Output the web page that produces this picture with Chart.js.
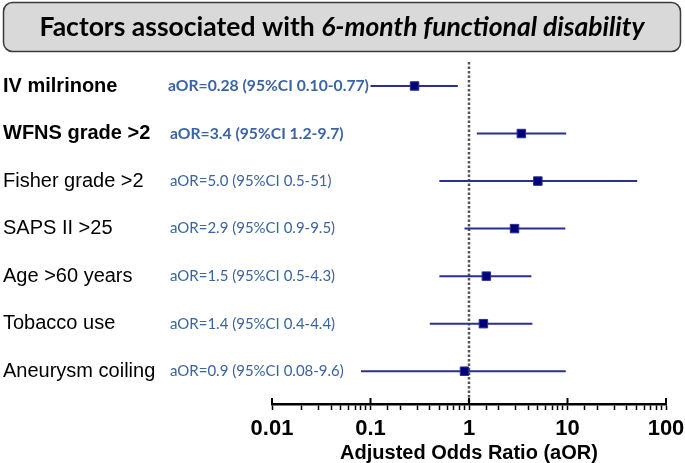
<!DOCTYPE html>
<html>
<head>
<meta charset="utf-8">
<script src="https://cdn.jsdelivr.net/npm/chart.js@4.4.0/dist/chart.umd.min.js"></script>
<style>
  html, body { margin: 0; padding: 0; background: #fff; }
  #wrap { width: 685px; height: 463px; position: relative; }
</style>
</head>
<body>
<div id="wrap"><canvas id="forestChart"></canvas></div>
<script>
// Data
const factors = ['IV milrinone', 'WFNS grade >2', 'Fisher grade >2', 'SAPS II >25', 'Age >60 years', 'Tobacco use', 'Aneurysm coiling'];
const boldRows = [true, true, false, false, false, false, false];
const oddsRatio = [0.28, 3.4, 5.0, 2.9, 1.5, 1.4, 0.9];
const ciLow = [0.10, 1.2, 0.5, 0.9, 0.5, 0.4, 0.08];
const ciHigh = [0.77, 9.7, 51, 9.5, 4.3, 4.4, 9.6];
const ciText = [
  'aOR=0.28 (95%CI 0.10-0.77)',
  'aOR=3.4 (95%CI 1.2-9.7)',
  'aOR=5.0 (95%CI 0.5-51)',
  'aOR=2.9 (95%CI 0.9-9.5)',
  'aOR=1.5 (95%CI 0.5-4.3)',
  'aOR=1.4 (95%CI 0.4-4.4)',
  'aOR=0.9 (95%CI 0.08-9.6)'
];
const majorTicks = [0.01, 0.1, 1, 10, 100];
const titlePlain = 'Factors associated with ';
const titleItalic = '6-month functional disability';
const axisTitle = 'Adjusted Odds Ratio (aOR)';

// Draws reference line, CI whiskers, row labels and the title box
const forestPlugin = {
  id: 'forest',
  beforeDatasetsDraw(chart) {
    const { ctx, chartArea, scales: { x, y } } = chart;
    ctx.save();
    // dotted line at OR = 1
    const x1 = x.getPixelForValue(1);
    ctx.strokeStyle = '#555';
    ctx.lineWidth = 2.5;
    ctx.setLineDash([2.5, 2]);
    ctx.beginPath();
    ctx.moveTo(x1, chartArea.top);
    ctx.lineTo(x1, chartArea.bottom);
    ctx.stroke();
    ctx.setLineDash([]);
    // confidence intervals
    ctx.strokeStyle = '#2b2f8f';
    ctx.lineWidth = 2;
    ciLow.forEach((lo, i) => {
      const py = y.getPixelForValue(i);
      ctx.beginPath();
      ctx.moveTo(x.getPixelForValue(lo), py);
      ctx.lineTo(x.getPixelForValue(ciHigh[i]), py);
      ctx.stroke();
    });
    ctx.restore();
  },
  afterDraw(chart) {
    const { ctx, scales: { x, y } } = chart;
    ctx.save();
    // upper half of the major ticks
    ctx.strokeStyle = '#000';
    ctx.lineWidth = 2;
    majorTicks.forEach(v => {
      const px = x.getPixelForValue(v);
      ctx.beginPath();
      ctx.moveTo(px, x.top);
      ctx.lineTo(px, x.top - 6);
      ctx.stroke();
    });
    // row labels and estimates
    ctx.textBaseline = 'middle';
    factors.forEach((f, i) => {
      const py = y.getPixelForValue(i);
      ctx.fillStyle = '#000';
      ctx.font = (boldRows[i] ? 'bold ' : '') + '20px "Liberation Sans", Arial, sans-serif';
      ctx.fillText(f, 3, py);
      ctx.fillStyle = '#3b64a3';
      ctx.font = boldRows[i] ? 'bold 15.7px Lato, sans-serif' : '15px Lato, sans-serif';
      ctx.fillText(ciText[i], i === 0 ? 168 : 170, py);
    });
    // title box
    ctx.fillStyle = '#d9d9d9';
    ctx.strokeStyle = '#3a3a3a';
    ctx.lineWidth = 1.5;
    ctx.beginPath();
    ctx.roundRect(3.5, 2.5, 677, 49, 9);
    ctx.fill();
    ctx.stroke();
    ctx.fillStyle = '#000';
    const fPlain = 'bold 26.5px Lato, sans-serif';
    const fItal = 'italic bold 26.5px Lato, sans-serif';
    ctx.font = fPlain;
    const w1 = ctx.measureText(titlePlain).width;
    ctx.font = fItal;
    const w2 = ctx.measureText(titleItalic).width;
    const start = 342 - (w1 + w2) / 2;
    ctx.font = fPlain;
    ctx.fillText(titlePlain, start, 27);
    ctx.font = fItal;
    ctx.fillText(titleItalic, start + w1, 27);
    ctx.restore();
  }
};

const ctx = document.getElementById('forestChart').getContext('2d');
new Chart(ctx, {
  type: 'scatter',
  data: {
    datasets: [{
      data: oddsRatio.map((v, i) => ({ x: v, y: i })),
      pointStyle: 'rect',
      pointRadius: 6,
      pointHoverRadius: 6,
      backgroundColor: '#00007a',
      borderColor: '#2b2f8f',
      borderWidth: 1
    }]
  },
  options: {
    responsive: true,
    maintainAspectRatio: false,
    animation: false,
    layout: { padding: { top: 62, left: 272, right: 19, bottom: 0 } },
    plugins: { legend: { display: false }, tooltip: { enabled: false } },
    scales: {
      x: {
        type: 'logarithmic',
        min: 0.01,
        max: 100,
        afterFit(scale) { scale.paddingRight = 0; scale.paddingLeft = 0; },
        border: { display: true, color: '#000', width: 2.5 },
        grid: { drawOnChartArea: false, drawTicks: true, tickLength: 6, color: '#000', tickWidth: 1.5 },
        ticks: {
          autoSkip: false,
          maxRotation: 0,
          padding: 8,
          color: '#000',
          font: { family: '"Liberation Sans", Arial, sans-serif', size: 22, weight: 'bold', lineHeight: 1 },
          callback: v => majorTicks.includes(Number(v)) ? String(v) : ''
        },
        title: {
          display: true,
          text: axisTitle,
          color: '#000',
          font: { family: '"Liberation Sans", Arial, sans-serif', size: 20, weight: 'bold', lineHeight: 1 },
          padding: { top: -5, bottom: 0 }
        }
      },
      y: {
        type: 'linear',
        reverse: true,
        min: -0.505,
        max: 6.69,
        display: false
      }
    }
  },
  plugins: [forestPlugin]
});
</script>
</body>
</html>
